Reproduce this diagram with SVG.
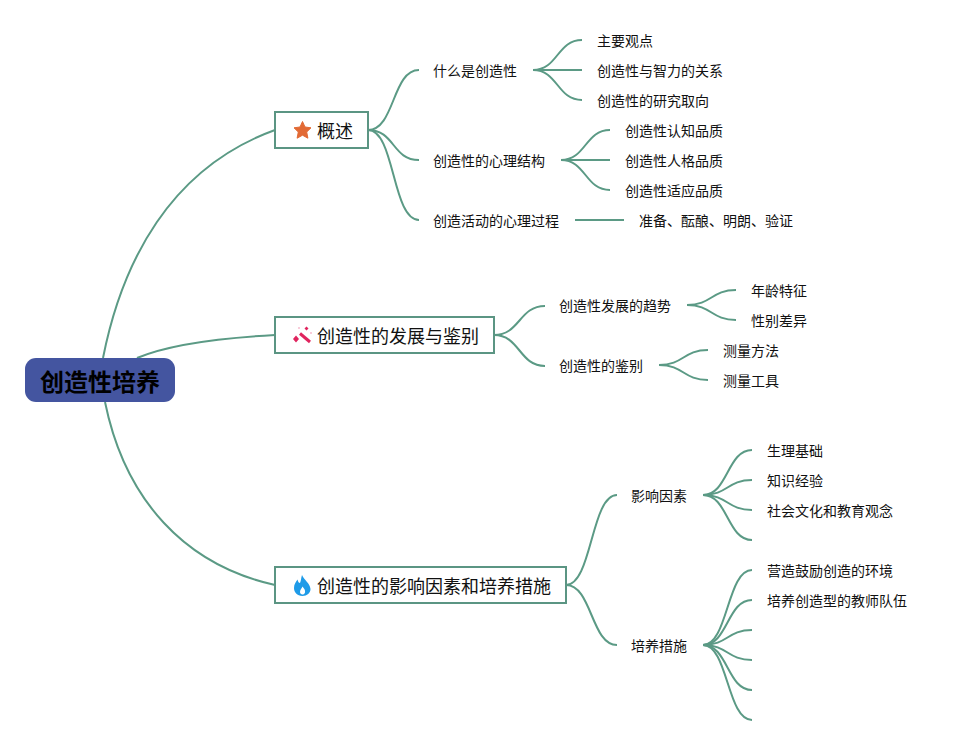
<svg xmlns="http://www.w3.org/2000/svg" width="967" height="745" viewBox="0 0 967 745">
<style>
.c{fill:none;stroke:#5b9a85;stroke-width:2}
.t{font-family:"Noto Sans CJK SC","Noto Sans",sans-serif;font-size:14px;fill:#111;dominant-baseline:central}
.m{font-size:18px}
.b{fill:#fff;stroke:#5b9583;stroke-width:2}
.r{font-size:24px;font-weight:700;fill:#000}
</style>
<rect width="967" height="745" fill="#fff"/>
<g id="connectors" class="c">
<path d="M103,358C122,262 170,168 275,130"/>
<path d="M137,358C170,344 220,338 275,335"/>
<path d="M105,402C125,500 185,565 275,585"/>
<path d="M368,130C395,130 392,70 419,70"/>
<path d="M368,130C395,130 392,160 419,160"/>
<path d="M368,130C395,130 392,220 419,220"/>
<path d="M533,70C558,70 557,40 582,40"/>
<path d="M533,70H582"/>
<path d="M533,70C558,70 557,100 582,100"/>
<path d="M561,160C586,160 585,130 610,130"/>
<path d="M561,160H610"/>
<path d="M561,160C586,160 585,190 610,190"/>
<path d="M575,220H624"/>
<path d="M494,335C520,335 519,306 545,306"/>
<path d="M494,335C520,335 519,366 545,366"/>
<path d="M687,305C712,305 711,290 736,290"/>
<path d="M687,305C712,305 711,320 736,320"/>
<path d="M659,365C684,365 683,350 708,350"/>
<path d="M659,365C684,365 683,380 708,380"/>
<path d="M566,585C592,585 591,495 617,495"/>
<path d="M566,585C592,585 591,645 617,645"/>
<path d="M703,495C728,495 727,450 752,450"/>
<path d="M703,495C728,495 727,480 752,480"/>
<path d="M703,495C728,495 727,510 752,510"/>
<path d="M703,495C728,495 727,540 752,540"/>
<path d="M703,645C728,645 727,570 752,570"/>
<path d="M703,645C728,645 727,600 752,600"/>
<path d="M703,645C728,645 727,630 752,630"/>
<path d="M703,645C728,645 727,660 752,660"/>
<path d="M703,645C728,645 727,690 752,690"/>
<path d="M703,645C728,645 727,720 752,720"/>
</g>
<g id="root"><rect x="25" y="358" width="150" height="44" rx="11" fill="#4455a0"/><text class="t r" x="100" y="380" text-anchor="middle">创造性培养</text></g>
<g id="n1"><rect class="b" x="275" y="112" width="93" height="36"/>
<path d="M302.500,121.500L305,127L311,127.800L306.700,132L307.900,138.200L302.500,135.200L297.100,138.200L298.300,132L294,127.800L300,127Z" fill="#e26a35" stroke="#e26a35" stroke-linejoin="round"/>
<text class="t m" x="317" y="130">概述</text></g>
<g id="n2"><rect class="b" x="275" y="317" width="219" height="36"/>
<path d="M300,333.500L310,342" stroke="#e0245e" stroke-width="3" fill="none"/>
<path d="M296,335.500L299,339L296,342.500L293,339ZM306.500,326.500L308.500,328.500L306.500,330.500L304.500,328.500Z" fill="#e0245e"/>
<circle cx="299" cy="328" r="0.800" fill="#f08aa8"/><circle cx="311" cy="333" r="0.800" fill="#f08aa8"/>
<text class="t m" x="317" y="335">创造性的发展与鉴别</text></g>
<g id="n3"><rect class="b" x="275" y="567" width="291" height="36"/>
<path d="M302,575C304,580 310,583 310.500,589C310.500,593 307,596 302.500,596C297,596 294,592 294,588C294,584 296,582 297.500,579.500C298,582 299,583 300,583C301,581 301,578 302,575Z" fill="#1e9be8"/>
<path d="M302.500,586.500C304,588.500 305.500,590 305,592.500C304.500,594 303.500,594.500 302.500,594.500C301,594.500 300,593.500 300,592C300,590 301.500,588.500 302.500,586.500Z" fill="#fff"/>
<text class="t m" x="317" y="585">创造性的影响因素和培养措施</text></g>
<g id="a1"><text class="t" x="433" y="70">什么是创造性</text></g>
<g id="a2"><text class="t" x="433" y="160">创造性的心理结构</text></g>
<g id="a3"><text class="t" x="433" y="220">创造活动的心理过程</text></g>
<g id="a11"><text class="t" x="597" y="40">主要观点</text></g>
<g id="a12"><text class="t" x="597" y="70">创造性与智力的关系</text></g>
<g id="a13"><text class="t" x="597" y="100">创造性的研究取向</text></g>
<g id="a21"><text class="t" x="625" y="130">创造性认知品质</text></g>
<g id="a22"><text class="t" x="625" y="160">创造性人格品质</text></g>
<g id="a23"><text class="t" x="625" y="190">创造性适应品质</text></g>
<g id="a31"><text class="t" x="639" y="220">准备、酝酿、明朗、验证</text></g>
<g id="b1"><text class="t" x="559" y="305">创造性发展的趋势</text></g>
<g id="b2"><text class="t" x="559" y="365">创造性的鉴别</text></g>
<g id="b11"><text class="t" x="751" y="290">年龄特征</text></g>
<g id="b12"><text class="t" x="751" y="320">性别差异</text></g>
<g id="b21"><text class="t" x="723" y="350">测量方法</text></g>
<g id="b22"><text class="t" x="723" y="380">测量工具</text></g>
<g id="c1"><text class="t" x="631" y="495">影响因素</text></g>
<g id="c2"><text class="t" x="631" y="645">培养措施</text></g>
<g id="c11"><text class="t" x="767" y="450">生理基础</text></g>
<g id="c12"><text class="t" x="767" y="480">知识经验</text></g>
<g id="c13"><text class="t" x="767" y="510">社会文化和教育观念</text></g>
<g id="c21"><text class="t" x="767" y="570">营造鼓励创造的环境</text></g>
<g id="c22"><text class="t" x="767" y="600">培养创造型的教师队伍</text></g>
</svg>
